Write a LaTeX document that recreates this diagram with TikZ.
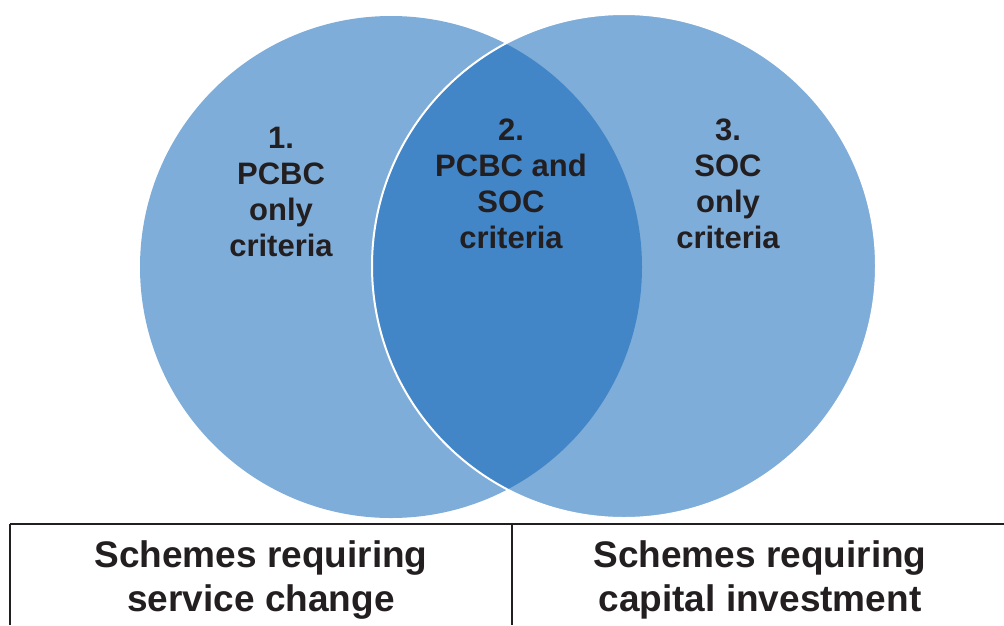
\documentclass[tikz,border=0pt]{standalone}
\usepackage{fontspec}
\setmainfont{Liberation Sans}
\definecolor{lightblue}{RGB}{127,173,217}
\definecolor{midblue}{RGB}{66,134,200}
\definecolor{ink}{RGB}{35,31,32}
\begin{document}
\begin{tikzpicture}[x=1pt,y=-1pt,
  setlabel/.style={anchor=base,inner sep=0pt,align=center,text=ink,
    font=\bfseries\fontsize{31}{36}\selectfont},
  boxlabel/.style={anchor=base,inner sep=0pt,align=center,text=ink,
    font=\bfseries\fontsize{37}{44}\selectfont},
  rule/.style={draw=ink,line width=2pt}]
\useasboundingbox (0,0) rectangle (1004,625);
% circle centres
\coordinate (cL) at (391,267);
\coordinate (cR) at (624,266);
% the two sets
\fill[lightblue] (cL) circle[radius=251];
\fill[lightblue] (cR) circle[radius=252];
% overlap
\begin{scope}
  \clip (cL) circle[radius=251];
  \fill[midblue] (cR) circle[radius=252];
\end{scope}
\draw[white,line width=2pt] (cR) circle[radius=252];
% set labels (anchored on the baseline of the last line)
\node[setlabel] (s1) at (281,256) {1.\\PCBC\\only\\criteria};
\node[setlabel] (s2) at (511,248) {2.\\PCBC and\\SOC\\criteria};
\node[setlabel] (s3) at (728,248) {3.\\SOC\\only\\criteria};
% table under the diagram
\coordinate (tl) at (10,524);
\coordinate (tm) at (512,524);
\coordinate (tr) at (1004,524);
\coordinate (bl) at (10,625);
\coordinate (bm) at (512,625);
\draw[rule] (tl) -- (tr);
\draw[rule] (tl) -- (bl);
\draw[rule] (tm) -- (bm);
\node[boxlabel] (b1) at (261,611) {Schemes requiring\\service change};
\node[boxlabel] (b2) at (760,611) {Schemes requiring\\capital investment};
\end{tikzpicture}
\end{document}
